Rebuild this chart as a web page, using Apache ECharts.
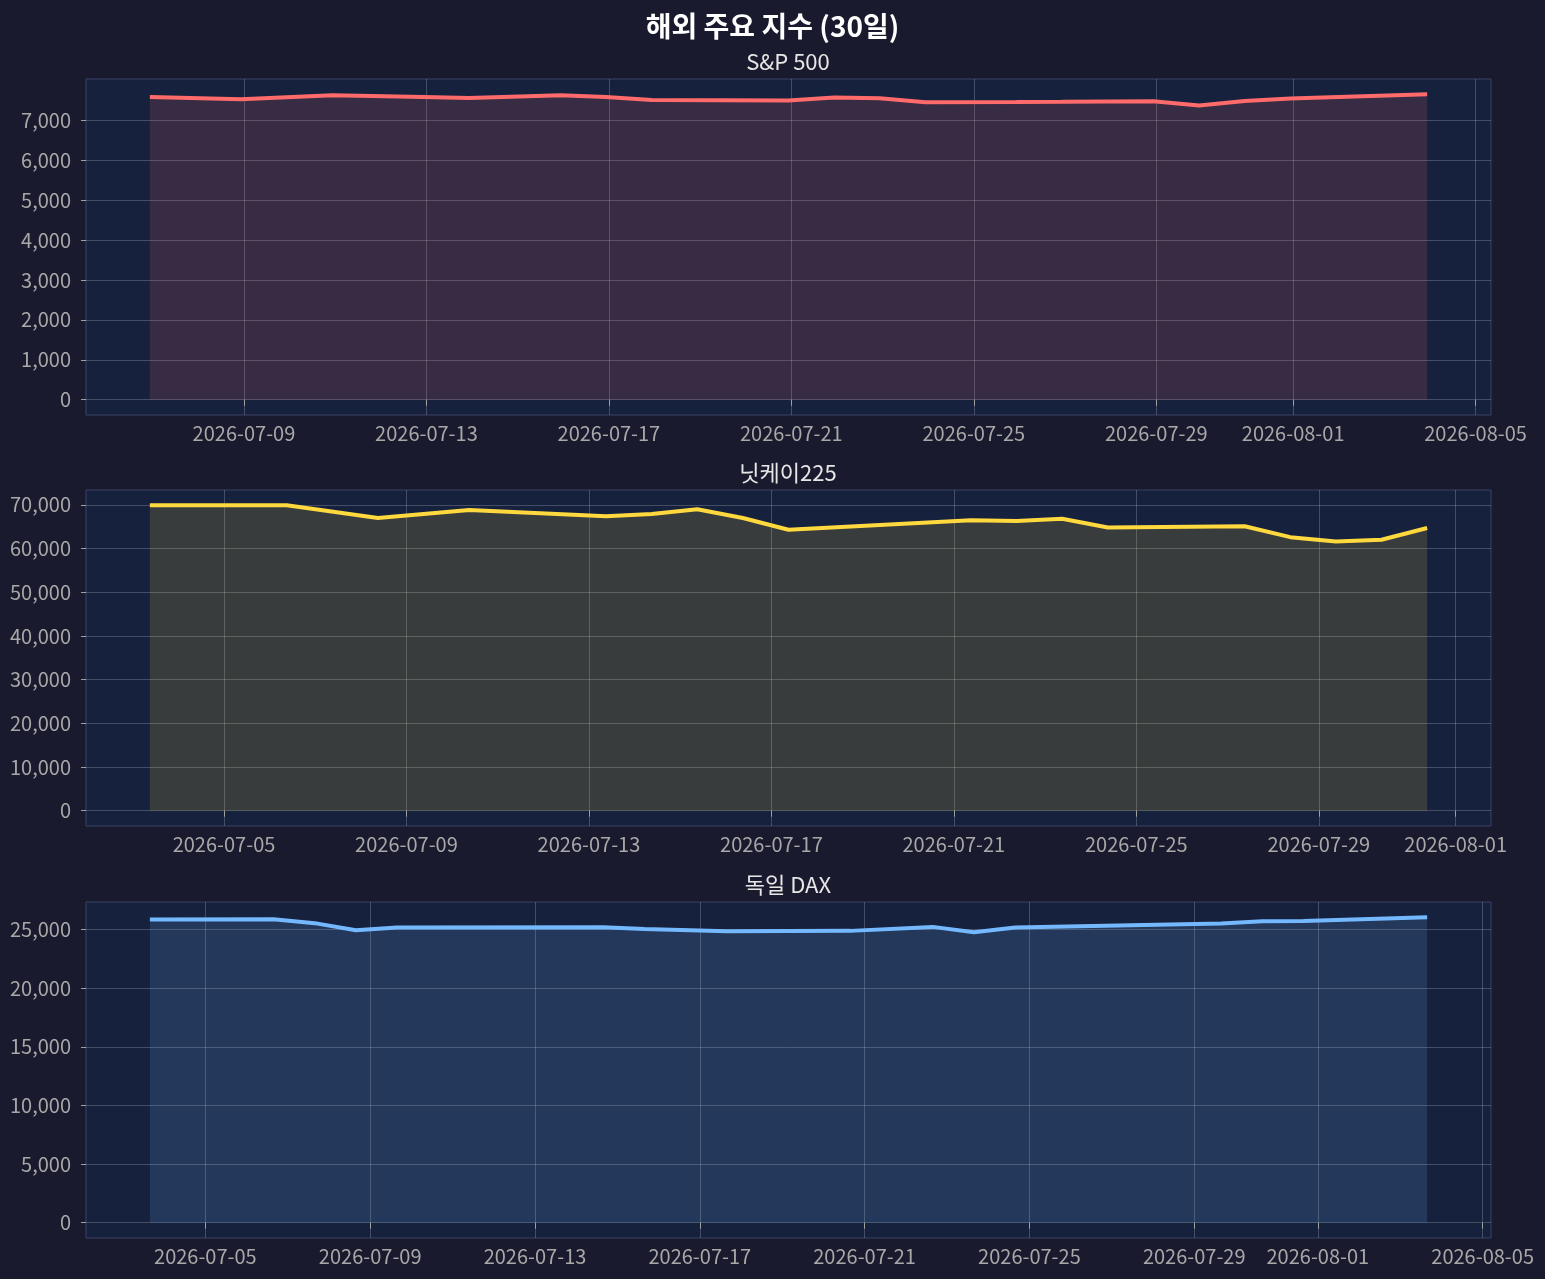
<!DOCTYPE html>
<html>
<head>
<meta charset="utf-8">
<script src="https://cdn.jsdelivr.net/npm/echarts@6/dist/echarts.min.js"></script>
<style>
html,body{margin:0;padding:0;background:#1a1a2e;}
#chart{width:1545px;height:1279px;}
</style>
</head>
<body>
<div id="chart"></div>
<script>
// ---- data ----
const spDates = ['2026-07-06 22:30','2026-07-08 22:30','2026-07-10 22:30','2026-07-12 22:30','2026-07-13 22:30','2026-07-15 22:30','2026-07-16 22:30','2026-07-17 22:30','2026-07-20 22:30','2026-07-21 22:30','2026-07-22 22:30','2026-07-23 22:30','2026-07-25 22:30','2026-07-26 22:30','2026-07-28 22:30','2026-07-29 22:30','2026-07-30 22:30','2026-07-31 22:30','2026-08-03 22:30'];
const spValues = [7583,7525,7625,7583,7558,7625,7583,7508,7492,7567,7550,7450,7455,7460,7475,7367,7483,7542,7650];

const nkDates = ['2026-07-03 09:00','2026-07-04 09:00','2026-07-06 09:00','2026-07-08 09:00','2026-07-10 09:00','2026-07-13 09:00','2026-07-14 09:00','2026-07-15 09:00','2026-07-16 09:00','2026-07-17 09:00','2026-07-21 09:00','2026-07-22 09:00','2026-07-23 09:00','2026-07-24 09:00','2026-07-27 09:00','2026-07-28 09:00','2026-07-29 09:00','2026-07-30 09:00','2026-07-31 09:00'];
const nkValues = [69900,69900,69900,67000,68800,67400,67900,69000,67000,64300,66500,66300,66800,64800,65100,62600,61600,62000,64700];

const dxDates = ['2026-07-03 15:40','2026-07-06 15:40','2026-07-07 15:40','2026-07-08 15:40','2026-07-09 15:40','2026-07-14 15:40','2026-07-15 15:40','2026-07-17 15:40','2026-07-20 15:40','2026-07-22 15:40','2026-07-23 15:40','2026-07-24 15:40','2026-07-29 15:40','2026-07-30 15:40','2026-07-31 15:40','2026-08-03 15:40'];
const dxValues = [25850,25880,25550,24940,25170,25200,25060,24850,24890,25230,24770,25170,25510,25710,25740,26050];

const spXTicks = ['2026-07-09','2026-07-13','2026-07-17','2026-07-21','2026-07-25','2026-07-29','2026-08-01','2026-08-05'];
const nkXTicks = ['2026-07-05','2026-07-09','2026-07-13','2026-07-17','2026-07-21','2026-07-25','2026-07-29','2026-08-01'];
const dxXTicks = ['2026-07-05','2026-07-09','2026-07-13','2026-07-17','2026-07-21','2026-07-25','2026-07-29','2026-08-01','2026-08-05'];

const spYTicks = [0,1000,2000,3000,4000,5000,6000,7000];
const nkYTicks = [0,10000,20000,30000,40000,50000,60000,70000];
const dxYTicks = [0,5000,10000,15000,20000,25000];

const titles = ['S&P 500','닛케이225','독일 DAX'];
const mainTitle = '해외 주요 지수 (30일)';
const colors = ['#ff6b6b','#ffd93d','#74b9ff'];

// ---- helpers ----
function toTs(s){
  const [d,t] = s.split(' ');
  const [y,m,dd] = d.split('-').map(Number);
  let h=0,mi=0;
  if(t){ [h,mi] = t.split(':').map(Number); }
  return new Date(y,m-1,dd,h,mi).getTime();
}
function pad(n){return n<10?'0'+n:''+n;}
function fmtDate(v){const d=new Date(Math.round(v));return d.getFullYear()+'-'+pad(d.getMonth()+1)+'-'+pad(d.getDate());}
function fmtNum(v){return Math.round(v).toLocaleString('en-US');}

const FONT = '"Noto Sans CJK KR","Noto Sans",sans-serif';
const panels = [
  {dates:spDates, values:spValues, xt:spXTicks, yt:spYTicks, top:79},
  {dates:nkDates, values:nkValues, xt:nkXTicks, yt:nkYTicks, top:490},
  {dates:dxDates, values:dxValues, xt:dxXTicks, yt:dxYTicks, top:902}
];
const titleTops = [51, 462, 874];

const grids=[], xAxes=[], yAxes=[], series=[], titleArr=[];
titleArr.push({text:mainTitle, left:'center', top:12, padding:0,
  textStyle:{color:'#ffffff', fontSize:28, fontWeight:'bold', fontFamily:FONT}});

panels.forEach((p,i)=>{
  const ts = p.dates.map(toTs);
  const span = ts[ts.length-1]-ts[0];
  const vmax = Math.max(...p.values);
  grids.push({left:86, right:54, top:p.top, height:336, show:true,
    backgroundColor:'#16213e', borderColor:'#3b4263', borderWidth:1});
  titleArr.push({text:titles[i], left:788, textAlign:'center', top:titleTops[i], padding:0,
    textStyle:{color:'#e6e6e6', fontSize:22, fontWeight:'normal', fontFamily:FONT}});
  const xCustom = p.xt.map(toTs);
  xAxes.push({type:'value', gridIndex:i, min:ts[0]-0.05*span, max:ts[ts.length-1]+0.05*span,
    scale:true,
    axisLine:{show:false},
    axisTick:{show:true, length:6, lineStyle:{color:'#a0a0a0'}, customValues:xCustom},
    axisLabel:{color:'#a8a8a8', fontSize:20, fontFamily:FONT, margin:8, customValues:xCustom,
      formatter:(v)=>fmtDate(v), hideOverlap:false},
    splitLine:{show:true, lineStyle:{color:'rgba(255,255,255,0.2)', width:1}}
  });
  yAxes.push({type:'value', gridIndex:i, min:-0.05*vmax, max:vmax*1.05,
    axisLine:{show:false},
    axisTick:{show:true, length:5, lineStyle:{color:'#a0a0a0'}, customValues:p.yt},
    axisLabel:{color:'#a8a8a8', fontSize:20, fontFamily:FONT, margin:15, customValues:p.yt,
      formatter:(v)=>fmtNum(v)},
    splitLine:{show:true, lineStyle:{color:'rgba(255,255,255,0.2)', width:1}}
  });
  series.push({type:'line', xAxisIndex:i, yAxisIndex:i, data:ts.map((t,k)=>[t,p.values[k]]),
    showSymbol:false, symbol:'none', lineStyle:{color:colors[i], width:4},
    itemStyle:{color:colors[i]},
    areaStyle:{color:colors[i], opacity:0.15, origin:'auto'}, animation:false});
});

const chart = echarts.init(document.getElementById('chart'), null, {renderer:'canvas'});
chart.setOption({
  backgroundColor:'#1a1a2e',
  animation:false,
  title:titleArr,
  grid:grids,
  xAxis:xAxes,
  yAxis:yAxes,
  series:series
});
</script>
</body>
</html>
